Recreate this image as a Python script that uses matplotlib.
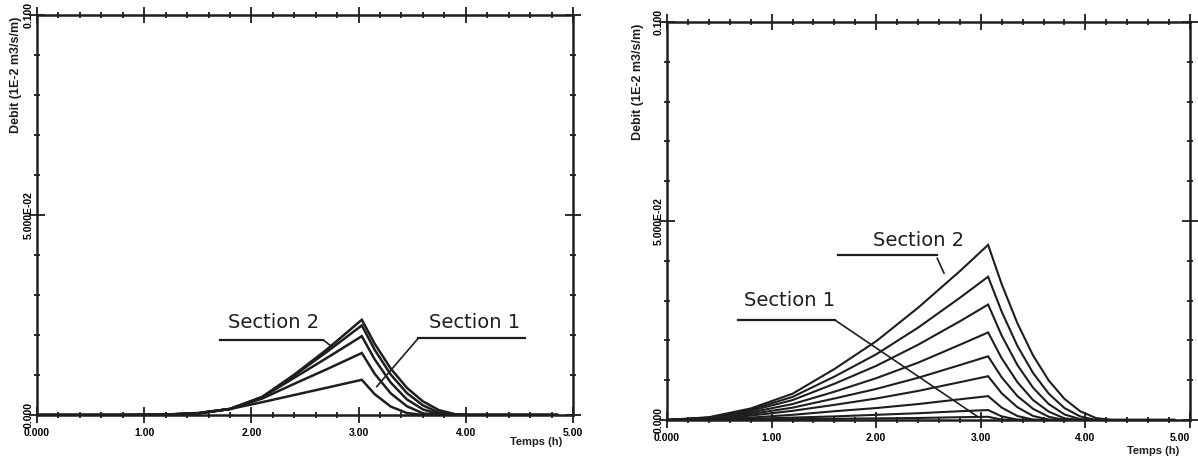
import matplotlib.pyplot as plt
from matplotlib.ticker import FixedLocator, MultipleLocator

# Hydrographs per section (Debit vs Temps), two runs side by side
t_left = [0.0, 0.8, 1.2, 1.5, 1.8, 2.1, 2.4, 2.7, 3.03,
          3.15, 3.3, 3.45, 3.6, 3.75, 3.9, 4.05, 4.2, 4.85]
q_left = [
    [0, 0, 0.0001, 0.0004, 0.0015, 0.0045, 0.0101, 0.0163, 0.0238,
     0.0178, 0.0116, 0.0068, 0.0034, 0.0012, 0.0002, 0, 0, 0],
    [0, 0, 0.0001, 0.0004, 0.0015, 0.0045, 0.0099, 0.0157, 0.0224,
     0.0163, 0.0101, 0.0055, 0.0024, 0.0006, 0, 0, 0, 0],
    [0, 0, 0.0001, 0.0004, 0.0015, 0.0044, 0.0093, 0.0142, 0.0197,
     0.0139, 0.0081, 0.0039, 0.0014, 0.0002, 0, 0, 0, 0],
    [0, 0, 0.0001, 0.0004, 0.0015, 0.0041, 0.0078, 0.0114, 0.0155,
     0.0103, 0.0054, 0.0022, 0.0004, 0, 0, 0, 0, 0],
    [0, 0, 0.0001, 0.0005, 0.0015, 0.0032, 0.0050, 0.0068, 0.0088,
     0.0052, 0.0021, 0.0005, 0, 0, 0, 0, 0, 0],
]

t_right = [0.0, 0.4, 0.8, 1.2, 1.6, 2.0, 2.4, 2.8, 3.07,
           3.2, 3.35, 3.5, 3.65, 3.8, 3.95, 4.1, 4.25, 4.5, 4.85]
q_right = [
    [0, 0.0007, 0.0029, 0.0066, 0.0128, 0.0198, 0.0282, 0.0374, 0.0440,
     0.0341, 0.0243, 0.0162, 0.0099, 0.0053, 0.0022, 0.0005, 0, 0, 0],
    [0, 0.0006, 0.0026, 0.0058, 0.0109, 0.0165, 0.0232, 0.0307, 0.0360,
     0.0272, 0.0186, 0.0118, 0.0066, 0.0030, 0.0009, 0, 0, 0, 0],
    [0, 0.0005, 0.0023, 0.0050, 0.0091, 0.0136, 0.0189, 0.0248, 0.0290,
     0.0212, 0.0138, 0.0081, 0.0040, 0.0014, 0.0002, 0, 0, 0, 0],
    [0, 0.0005, 0.0019, 0.0040, 0.0071, 0.0105, 0.0144, 0.0189, 0.0220,
     0.0155, 0.0095, 0.0050, 0.0021, 0.0004, 0, 0, 0, 0, 0],
    [0, 0.0004, 0.0015, 0.0031, 0.0054, 0.0078, 0.0106, 0.0138, 0.0160,
     0.0107, 0.0060, 0.0028, 0.0008, 0, 0, 0, 0, 0, 0],
    [0, 0.0003, 0.0011, 0.0023, 0.0038, 0.0054, 0.0073, 0.0095, 0.0110,
     0.0067, 0.0032, 0.0010, 0.0001, 0, 0, 0, 0, 0, 0],
    [0, 0.0002, 0.0006, 0.0013, 0.0022, 0.0030, 0.0040, 0.0052, 0.0060,
     0.0031, 0.0010, 0.0001, 0, 0, 0, 0, 0, 0, 0],
    [0, 0.0001, 0.0003, 0.0006, 0.0009, 0.0013, 0.0017, 0.0022, 0.0025,
     0.0009, 0.0001, 0, 0, 0, 0, 0, 0, 0, 0],
    [0, 0, 0.0001, 0.0002, 0.0003, 0.0004, 0.0005, 0.0007, 0.0008,
     0.0001, 0, 0, 0, 0, 0, 0, 0, 0, 0],
]

x_ticks = [0, 1, 2, 3, 4, 5]
x_labels = ["0.000", "1.00", "2.00", "3.00", "4.00", "5.00"]
y_ticks = [0.0, 0.05, 0.1]
y_labels = ["0.000", "5.000E-02", "0.100"]

INK = "#1e1e1e"
LABEL_FONT = ["Liberation Sans", "DejaVu Sans"]

fig = plt.figure(figsize=(11.98, 4.63), dpi=100)
ax_l = fig.add_axes([0.0309, 0.1037, 0.4474, 0.8639])
ax_r = fig.add_axes([0.5568, 0.0929, 0.4365, 0.8596])


def style_axes(ax, ylab_x, xlab_y):
    ax.set_xlim(0, 5)
    ax.set_ylim(0, 0.1)
    for sp in ax.spines.values():
        sp.set_linewidth(1.8)
        sp.set_color(INK)
    ax.xaxis.set_major_locator(FixedLocator(x_ticks))
    ax.xaxis.set_minor_locator(MultipleLocator(0.2))
    ax.yaxis.set_major_locator(FixedLocator(y_ticks))
    ax.yaxis.set_minor_locator(MultipleLocator(0.01))
    ax.set_xticklabels(x_labels, family=LABEL_FONT, fontweight="bold",
                       fontsize=7.5)
    ax.set_yticklabels(y_labels, family=LABEL_FONT, fontweight="bold",
                       fontsize=7.5, rotation=90, va="center")
    ax.tick_params(which="both", direction="inout", top=True, right=True,
                   color=INK, width=1.3)
    ax.tick_params(which="major", length=11)
    ax.tick_params(which="minor", length=5)
    ax.tick_params(axis="x", which="major", pad=4)
    ax.tick_params(axis="y", which="major", pad=-3)
    ax.text(ylab_x, 0.995, "Debit (1E-2 m3/s/m)", transform=ax.transAxes,
            rotation=90, ha="center", va="top", family=LABEL_FONT,
            fontweight="bold", fontsize=9, color=INK)
    ax.text(0.98, xlab_y, "Temps (h)", transform=ax.transAxes,
            ha="right", va="center", family=LABEL_FONT,
            fontweight="bold", fontsize=8, color=INK)


def section_label(ax, text, xy_text, underline, leader):
    ax.text(xy_text[0], xy_text[1], text, ha="center", va="center",
            fontsize=14, color=INK)
    ax.plot(underline[0], underline[1], color=INK, lw=1.6, clip_on=False)
    ax.plot(leader[0], leader[1], color=INK, lw=1.2, clip_on=False)


for q in q_left:
    ax_l.plot(t_left, q, color=INK, lw=1.8, solid_joinstyle="miter")
for q in q_right:
    ax_r.plot(t_right, q, color=INK, lw=1.5, solid_joinstyle="miter")

style_axes(ax_l, -0.040, -0.068)
style_axes(ax_r, -0.056, -0.078)

# last tick label on the right panel sits against the figure edge
ax_r.get_xticklabels()[-1].set_horizontalalignment("right")

section_label(ax_l, "Section 2", (2.21, 0.0231),
              ([1.707, 2.671], [0.01875, 0.01875]),
              ([2.671, 2.749], [0.01875, 0.0171]))
section_label(ax_l, "Section 1", (4.08, 0.0230),
              ([3.557, 4.552], [0.0192, 0.0192]),
              ([3.557, 3.169], [0.0192, 0.0071]))
section_label(ax_r, "Section 2", (2.404, 0.0450),
              ([1.635, 2.584], [0.0415, 0.0415]),
              ([2.584, 2.648], [0.0406, 0.0369]))
section_label(ax_r, "Section 1", (1.176, 0.0299),
              ([0.682, 1.606], [0.0251, 0.0251]),
              ([1.606, 2.961], [0.0251, 0.0010]))

fig.savefig("out.png", dpi=100, facecolor="white")
